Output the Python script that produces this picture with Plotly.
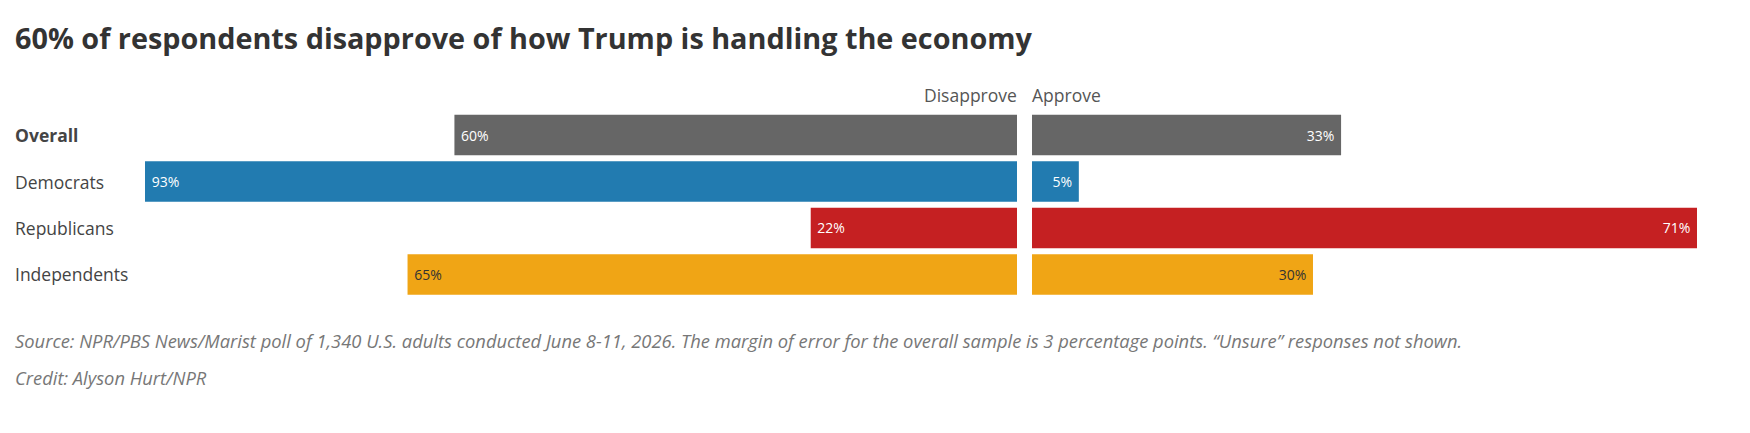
import plotly.graph_objects as go

categories = ["Overall", "Democrats", "Republicans", "Independents"]
disapprove = [60, 93, 22, 65]
approve = [33, 5, 71, 30]
bar_colors = ["#666666", "#227bb0", "#c52022", "#f0a515"]
text_colors = ["#ffffff", "#ffffff", "#ffffff", "#333333"]

title = "60% of respondents disapprove of how Trump is handling the economy"
source = ("Source: NPR/PBS News/Marist poll of 1,340 U.S. adults conducted June 8-11, 2026. "
          "The margin of error for the overall sample is 3 percentage points. \u201cUnsure\u201d responses not shown.")
credit = "Credit: Alyson Hurt/NPR"

W, H = 1750, 433
FONT = "Open Sans"

fig = go.Figure()
fig.add_trace(go.Bar(
    y=categories, x=disapprove, orientation="h", xaxis="x", yaxis="y",
    marker=dict(color=bar_colors, line=dict(width=0)),
    text=[f"\u00a0{v}%\u00a0" for v in disapprove],
    textposition="inside", insidetextanchor="end",
    textfont=dict(family=FONT, size=14, color=text_colors),
    hoverinfo="skip", showlegend=False,
))
fig.add_trace(go.Bar(
    y=categories, x=approve, orientation="h", xaxis="x2", yaxis="y",
    marker=dict(color=bar_colors, line=dict(width=0)),
    text=[f"\u00a0{v}%\u00a0" for v in approve],
    textposition="inside", insidetextanchor="end",
    textfont=dict(family=FONT, size=14, color=text_colors),
    hoverinfo="skip", showlegend=False,
))

ytop, ybot = 111.8, 297.7
fig.update_layout(
    width=W, height=H,
    margin=dict(l=0, r=0, t=0, b=0),
    paper_bgcolor="white", plot_bgcolor="white",
    bargap=0.13,
    font=dict(family=FONT, color="#555555"),
    xaxis=dict(domain=[145 / W, 1017 / W], range=[93, 0], visible=False, fixedrange=True),
    xaxis2=dict(domain=[1032 / W, 1697 / W], range=[0, 71], visible=False, fixedrange=True),
    yaxis=dict(domain=[1 - ybot / H, 1 - ytop / H], categoryorder="array",
               categoryarray=categories, autorange="reversed", visible=False, fixedrange=True),
)

annotations = [
    dict(text=f"<b>{title}</b>", xref="paper", yref="paper", x=13 / W, y=1 - 37 / H,
         xanchor="left", yanchor="middle", showarrow=False,
         font=dict(family=FONT, size=28.8, color="#333333")),
    dict(text="Disapprove", xref="x", yref="paper", x=0, y=1 - 95 / H,
         xanchor="right", yanchor="middle", showarrow=False, xshift=2,
         font=dict(family=FONT, size=17.5, color="#555555")),
    dict(text="Approve", xref="x2", yref="paper", x=0, y=1 - 95 / H,
         xanchor="left", yanchor="middle", showarrow=False, xshift=-2,
         font=dict(family=FONT, size=17.5, color="#555555")),
    dict(text=f"<i>{source}</i>", xref="paper", yref="paper", x=13 / W, y=1 - 340 / H,
         xanchor="left", yanchor="middle", showarrow=False,
         font=dict(family=FONT, size=18.35, color="#777777")),
    dict(text=f"<i>{credit}</i>", xref="paper", yref="paper", x=13 / W, y=1 - 377 / H,
         xanchor="left", yanchor="middle", showarrow=False,
         font=dict(family=FONT, size=18.35, color="#777777")),
]
for i, c in enumerate(categories):
    label = f"<b>{c}</b>" if i == 0 else c
    annotations.append(dict(text=label, xref="paper", yref="y", x=13 / W, y=c,
                            xanchor="left", yanchor="middle", showarrow=False,
                            font=dict(family=FONT, size=17.5, color="#444444")))
fig.update_layout(annotations=annotations)

fig.write_html("out.html")
